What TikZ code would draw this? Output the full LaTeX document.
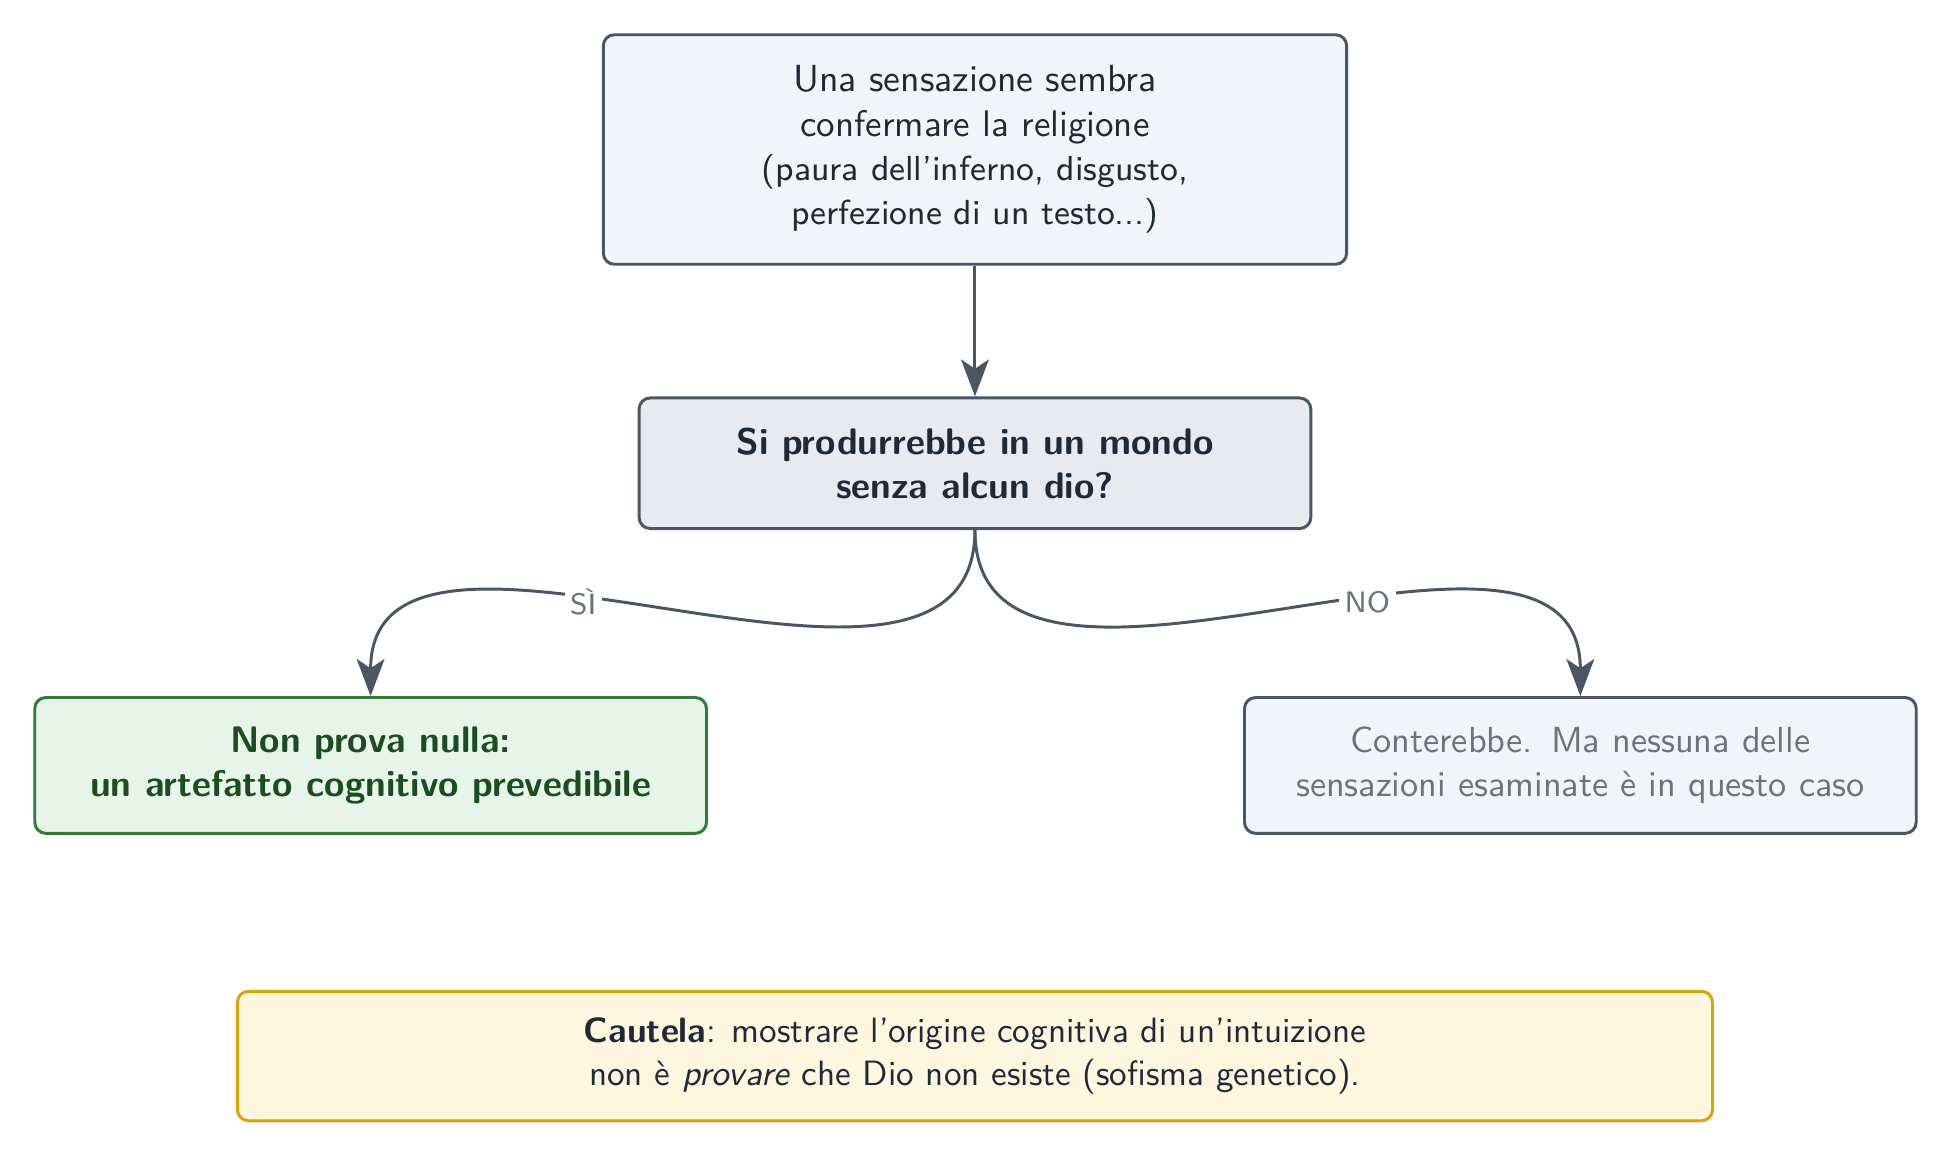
\documentclass[tikz,border=0pt]{standalone}
\usepackage{fontspec}
\usetikzlibrary{arrows.meta}
\definecolor{edgegray}{HTML}{4B5563}
\definecolor{inkdark}{HTML}{1F2937}
\definecolor{mutedgray}{HTML}{6B7280}
\definecolor{paleblue}{HTML}{F1F5F9}
\definecolor{palegray}{HTML}{E9EAF0}
\definecolor{palegreen}{HTML}{E6F4EA}
\definecolor{leafgreen}{HTML}{2E7D32}
\definecolor{deepgreen}{HTML}{1B4D20}
\definecolor{paleyellow}{HTML}{FEF7E0}
\definecolor{amber}{HTML}{D9A406}

\begin{document}
\begin{tikzpicture}[
  font=\sffamily,
  box/.style={draw=edgegray, thick, rounded corners=3pt, align=center, text=inkdark,
    minimum width=6.38cm, minimum height=1.27cm},
  flow/.style={draw=edgegray, thick, -{Stealth[length=10pt,width=7.5pt,inset=2.5pt]}},
  answer/.style={fill=white, font=\sffamily\footnotesize, text=mutedgray, inner sep=1.5pt}
]
\useasboundingbox (0,0) rectangle (18.54,-10.98);
% Starting sensation
\node[box, fill=paleblue, minimum width=7.06cm, minimum height=2.18cm] (feel) at (9.26,-1.42)
  {\fontsize{10.2pt}{12pt}\selectfont Una sensazione sembra\\ confermare la religione\\ {\fontsize{9.4pt}{12pt}\selectfont(paura dell'inferno, disgusto,}\\ {\fontsize{9.4pt}{12pt}\selectfont perfezione di un testo...)}};
% Question
\node[box, fill=palegray, font=\sffamily\bfseries, minimum height=1.24cm] (ask) at (9.26,-4.40)
  {Si produrrebbe in un mondo\\ senza alcun dio?};
% Answers
\node[box, draw=leafgreen, fill=palegreen, text=deepgreen, font=\sffamily\bfseries, minimum height=1.29cm] (yes) at (3.52,-7.27)
  {Non prova nulla:\\ un artefatto cognitivo prevedibile};
\node[box, fill=paleblue, text=mutedgray, font=\sffamily\fontsize{9.8pt}{11.8pt}\selectfont, minimum height=1.29cm] (no) at (15.01,-7.27)
  {Conterebbe.\hspace{5pt}Ma nessuna delle\\ sensazioni esaminate è in questo caso};
% Caution note
\node[box, draw=amber, fill=paleyellow, font=\sffamily\fontsize{9.5pt}{11.6pt}\selectfont, minimum width=14.01cm, minimum height=1.23cm] (warn) at (9.26,-10.03)
  {\textbf{Cautela}: mostrare l'origine cognitiva di un'intuizione\\ non è \emph{provare} che Dio non esiste (sofisma genetico).};
% Connectors
\draw[flow] (feel) -- (ask);
\draw[flow] (ask.south) to[out=-90, in=90] node[answer, pos=0.6] {SÌ} (yes.north);
\draw[flow] (ask.south) to[out=-90, in=90] node[answer, pos=0.6] {NO} (no.north);
\end{tikzpicture}
\end{document}
